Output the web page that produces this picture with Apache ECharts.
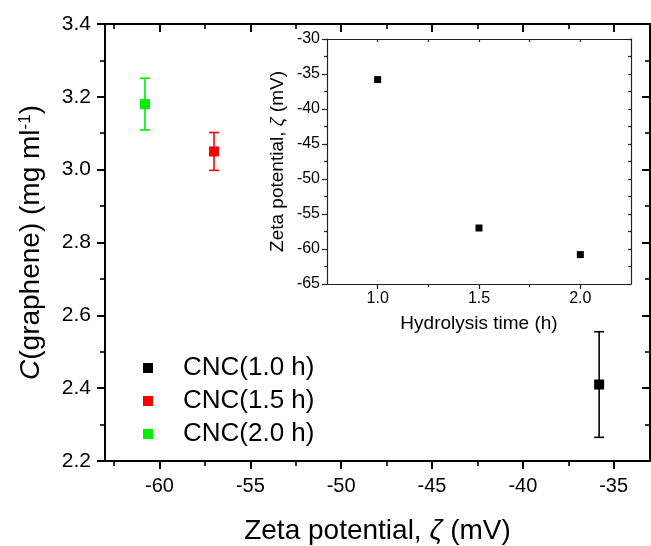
<!DOCTYPE html>
<html>
<head>
<meta charset="utf-8">
<script src="https://cdn.jsdelivr.net/npm/echarts@6/dist/echarts.min.js"></script>
<style>html,body{margin:0;padding:0;background:#fff;}#c{width:651px;height:546px;}</style>
</head>
<body>
<div id="c"></div>
<script>
// ---- data ----
const samples = ['CNC(1.0 h)', 'CNC(1.5 h)', 'CNC(2.0 h)'];
const hydrolysisTime = [1.0, 1.5, 2.0];
const zetaPotential = [-35.8, -57.0, -60.8];
const grapheneConc = [2.41, 3.05, 3.18];
const grapheneErr = [0.145, 0.052, 0.071];
const sampleColors = ['#000000', '#ff0000', '#00ee00'];
// tick values
const mainXMajor = [-60, -55, -50, -45, -40, -35];
const mainXMinor = [-62.5, -57.5, -52.5, -47.5, -42.5, -37.5];
const insetXMajor = [1.0, 1.5, 2.0];
const insetXMinor = [1.25, 1.75];
const insetXAll = [1.0, 1.25, 1.5, 1.75, 2.0];

const FONT = 'Liberation Sans, Arial, sans-serif';
const chart = echarts.init(document.getElementById('c'), null, {renderer: 'canvas'});

function xAxisBase(grid, min, max, pos) {
  return {type: 'value', gridIndex: grid, min: min, max: max, position: pos,
    splitLine: {show: false}, axisLine: {show: false, onZero: false}};
}

const MC = '#000';
const lineMain = {show: true, onZero: false, lineStyle: {color: MC, width: 2}};
const lineInset = {show: true, onZero: false, lineStyle: {color: '#222', width: 1.2}};

const option = {
  animation: false,
  backgroundColor: '#fff',
  textStyle: {fontFamily: FONT},
  grid: [
    {left: 105, right: 1, top: 24, bottom: 85, containLabel: false, outerBoundsMode: 'none'},
    {left: 327, right: 20, top: 39, bottom: 262, containLabel: false, outerBoundsMode: 'none', show: true, backgroundColor: '#fff', borderWidth: 0}
  ],
  legend: {
    orient: 'vertical', left: 138, top: 350, itemGap: 7,
    icon: 'rect', itemWidth: 10, itemHeight: 10,
    textStyle: {fontSize: 26, color: '#000', fontFamily: FONT, padding: [0, 0, 0, 25]},
    data: samples
  },
  xAxis: [
    // 0 main bottom major
    Object.assign(xAxisBase(0, -63, -33, 'bottom'), {
      axisLine: lineMain,
      axisTick: {show: true, length: 8, customValues: mainXMajor, lineStyle: {color: MC, width: 2}},
      axisLabel: {show: true, customValues: mainXMajor, fontSize: 20, color: '#000', margin: 15, fontFamily: FONT},
      name: 'Zeta potential, {i|ζ} (mV)', nameLocation: 'middle', nameGap: 56,
      nameTextStyle: {fontSize: 28, color: '#000', fontFamily: FONT, rich: {i: {fontStyle: 'italic', fontSize: 28, fontFamily: FONT}}}
    }),
    // 1 main bottom minor
    Object.assign(xAxisBase(0, -63, -33, 'bottom'), {
      axisTick: {show: true, length: 5, customValues: mainXMinor, lineStyle: {color: MC, width: 1.6}},
      axisLabel: {show: false}
    }),
    // 2 main top major
    Object.assign(xAxisBase(0, -63, -33, 'top'), {
      axisLine: lineMain,
      axisTick: {show: true, inside: true, length: 8, customValues: mainXMajor, lineStyle: {color: MC, width: 2}},
      axisLabel: {show: false}
    }),
    // 3 main top minor
    Object.assign(xAxisBase(0, -63, -33, 'top'), {
      axisTick: {show: true, inside: true, length: 5, customValues: mainXMinor, lineStyle: {color: MC, width: 1.6}},
      axisLabel: {show: false}
    }),
    // 4 inset bottom major
    Object.assign(xAxisBase(1, 0.75, 2.25, 'bottom'), {
      axisLine: lineInset,
      axisTick: {show: true, length: 5, customValues: insetXMajor, lineStyle: {color: '#222', width: 1.2}},
      axisLabel: {show: true, customValues: insetXMajor, fontSize: 16, color: '#000', margin: 7, fontFamily: FONT,
        formatter: v => v.toFixed(1)},
      name: 'Hydrolysis time (h)', nameLocation: 'middle', nameGap: 30,
      nameTextStyle: {fontSize: 19, color: '#000', fontFamily: FONT}
    }),
    // 5 inset bottom minor
    Object.assign(xAxisBase(1, 0.75, 2.25, 'bottom'), {
      axisTick: {show: true, length: 3, customValues: insetXMinor, lineStyle: {color: '#222', width: 1.2}},
      axisLabel: {show: false}
    }),
    // 6 inset top
    Object.assign(xAxisBase(1, 0.75, 2.25, 'top'), {
      axisLine: lineInset,
      axisTick: {show: true, inside: true, length: 3, customValues: insetXAll, lineStyle: {color: '#222', width: 1.2}},
      axisLabel: {show: false}
    })
  ],
  yAxis: [
    // 0 main left
    {type: 'value', gridIndex: 0, min: 2.2, max: 3.4, interval: 0.2, position: 'left',
      splitLine: {show: false},
      axisLine: lineMain,
      axisTick: {show: true, length: 8, lineStyle: {color: MC, width: 2}},
      minorTick: {show: true, splitNumber: 2, length: 5, lineStyle: {color: MC, width: 1.6}},
      axisLabel: {fontSize: 21, color: '#000', margin: 14, fontFamily: FONT, formatter: v => v.toFixed(1)},
      name: '{i|C}(graphene) (mg ml{s|-1})', nameLocation: 'middle', nameGap: 60, nameRotate: 90,
      nameTextStyle: {fontSize: 28, color: '#000', fontFamily: FONT,
        rich: {i: {fontStyle: 'italic', fontSize: 28, fontFamily: FONT},
               s: {fontSize: 17, verticalAlign: 'top', fontFamily: FONT, padding: [0, 0, 10, 0]}}}
    },
    // 1 main right
    {type: 'value', gridIndex: 0, min: 2.2, max: 3.4, interval: 0.2, position: 'right',
      splitLine: {show: false},
      axisLine: lineMain,
      axisTick: {show: true, inside: true, length: 8, lineStyle: {color: MC, width: 2}},
      minorTick: {show: true, splitNumber: 2, length: 5, lineStyle: {color: MC, width: 1.6}},
      axisLabel: {show: false}
    },
    // 2 inset left
    {type: 'value', gridIndex: 1, min: -65, max: -30, interval: 5, position: 'left',
      splitLine: {show: false},
      axisLine: lineInset,
      axisTick: {show: true, length: 5, lineStyle: {color: '#222', width: 1.2}},
      minorTick: {show: true, splitNumber: 2, length: 3, lineStyle: {color: '#222', width: 1.2}},
      axisLabel: {fontSize: 16, color: '#000', margin: 7, fontFamily: FONT},
      name: 'Zeta potential, {i|ζ} (mV)', nameLocation: 'middle', nameGap: 40, nameRotate: 90,
      nameTextStyle: {fontSize: 19, color: '#000', fontFamily: FONT, rich: {i: {fontStyle: 'italic', fontSize: 19, fontFamily: FONT}}}
    },
    // 3 inset right
    {type: 'value', gridIndex: 1, min: -65, max: -30, interval: 5, position: 'right',
      splitLine: {show: false},
      axisLine: lineInset,
      axisTick: {show: true, inside: true, length: 3, lineStyle: {color: '#222', width: 1.2}},
      minorTick: {show: true, splitNumber: 2, length: 3, lineStyle: {color: '#222', width: 1.2}},
      axisLabel: {show: false}
    }
  ],
  series: []
};

// error bars (main)
option.series.push({
  type: 'custom', xAxisIndex: 0, yAxisIndex: 0, z: 2, silent: true,
  data: zetaPotential.map((x, i) => [x, grapheneConc[i] - grapheneErr[i], grapheneConc[i] + grapheneErr[i]]),
  renderItem: function (params, api) {
    const lo = api.coord([api.value(0), api.value(1)]);
    const hi = api.coord([api.value(0), api.value(2)]);
    const c = sampleColors[params.dataIndex];
    const st = {stroke: c, lineWidth: 1.6};
    const w = 5;
    return {type: 'group', children: [
      {type: 'line', shape: {x1: lo[0], y1: lo[1], x2: hi[0], y2: hi[1]}, style: st},
      {type: 'line', shape: {x1: lo[0] - w, y1: lo[1], x2: lo[0] + w, y2: lo[1]}, style: st},
      {type: 'line', shape: {x1: hi[0] - w, y1: hi[1], x2: hi[0] + w, y2: hi[1]}, style: st}
    ]};
  }
});
// main points
samples.forEach((name, i) => {
  option.series.push({
    type: 'scatter', name: name, xAxisIndex: 0, yAxisIndex: 0, z: 3,
    symbol: 'rect', symbolSize: 10, itemStyle: {color: sampleColors[i], opacity: 1},
    data: [[zetaPotential[i], grapheneConc[i]]]
  });
});
// inset points
option.series.push({
  type: 'scatter', xAxisIndex: 4, yAxisIndex: 2, z: 3,
  symbol: 'rect', symbolSize: 7, itemStyle: {color: '#000', opacity: 1},
  data: hydrolysisTime.map((t, i) => [t, zetaPotential[i]])
});

chart.setOption(option);
</script>
</body>
</html>
